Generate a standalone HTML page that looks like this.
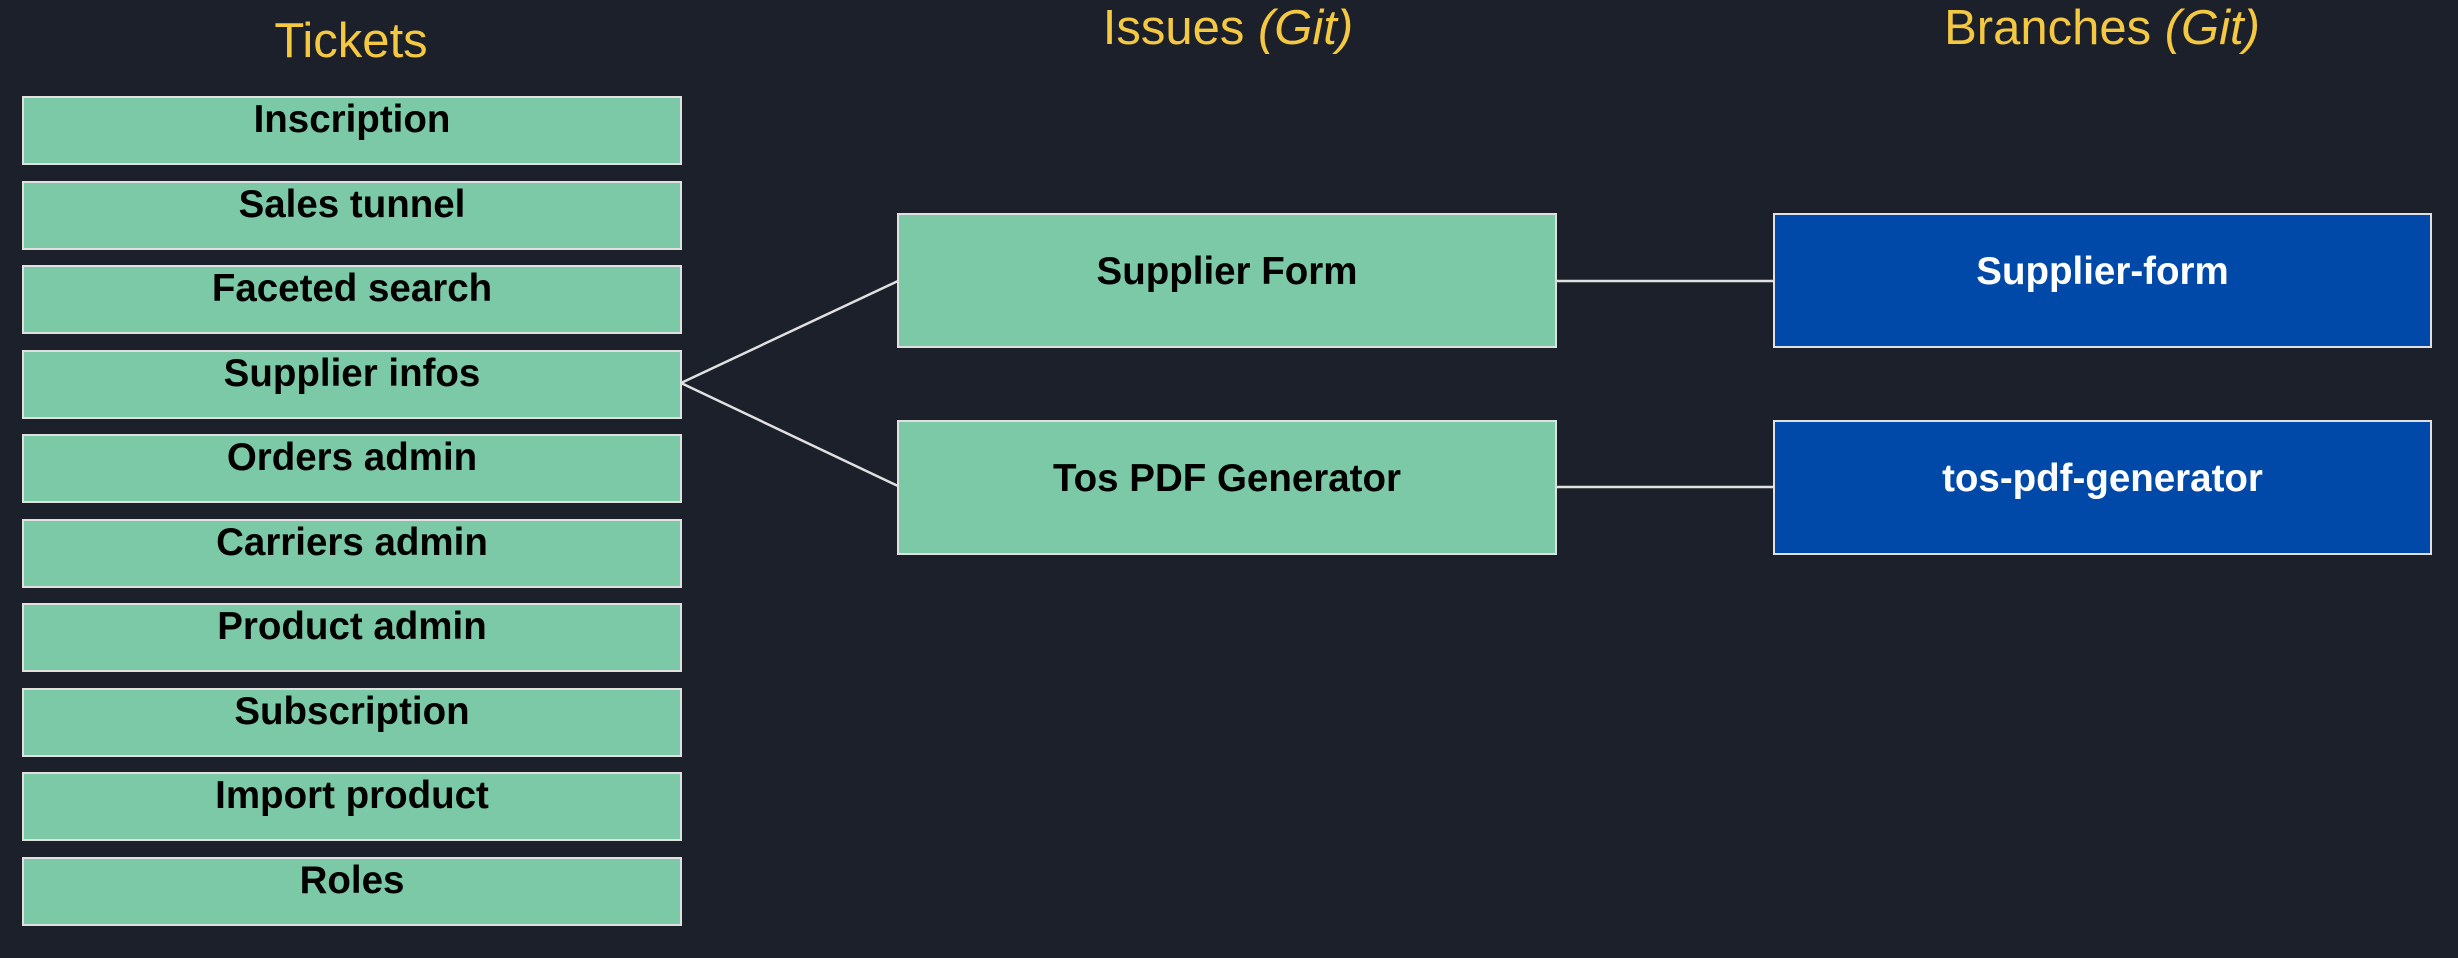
<!DOCTYPE html>
<html><head><style>
body{margin:0;width:2458px;height:958px;background:#1b202b;position:relative;overflow:hidden;font-family:"Liberation Sans",sans-serif}
.b{position:absolute;box-sizing:border-box;border:2px solid #e0e0e0;text-align:center;font-weight:bold;font-size:38.5px;color:#000}
.t{left:22px;width:660px;height:69px;background:#7cc9a7;line-height:42px;padding-top:1px}
.i{background:#7cc9a7;left:897px;width:660px;height:135px;padding-top:35px;line-height:44px}
.r{background:#0049a8;color:#fff;left:1773px;width:659px;height:135px;padding-top:35px;line-height:44px}
.h{position:absolute;color:#f5c842;font-size:49px;text-align:center;width:600px;line-height:56px}
</style></head><body>
<div class="h" style="left:51px;top:13px">Tickets</div>
<div class="h" style="left:928px;top:0px">Issues <i>(Git)</i></div>
<div class="h" style="left:1802px;top:0px">Branches <i>(Git)</i></div>
<svg style="position:absolute;left:0;top:0" width="2458" height="958">
<g stroke="#e0e0e0" stroke-width="2.5" fill="none">
<line x1="681" y1="383" x2="898" y2="281"/>
<line x1="681" y1="383" x2="898" y2="486"/>
<line x1="1556" y1="281" x2="1774" y2="281"/>
<line x1="1556" y1="487" x2="1774" y2="487"/>
</g></svg>
<div class="b t" style="top:96px">Inscription</div>
<div class="b t" style="top:181px">Sales tunnel</div>
<div class="b t" style="top:265px">Faceted search</div>
<div class="b t" style="top:350px">Supplier infos</div>
<div class="b t" style="top:434px">Orders admin</div>
<div class="b t" style="top:519px">Carriers admin</div>
<div class="b t" style="top:603px">Product admin</div>
<div class="b t" style="top:688px">Subscription</div>
<div class="b t" style="top:772px">Import product</div>
<div class="b t" style="top:857px">Roles</div>
<div class="b i" style="top:213px">Supplier Form</div>
<div class="b i" style="top:420px">Tos PDF Generator</div>
<div class="b r" style="top:213px">Supplier-form</div>
<div class="b r" style="top:420px">tos-pdf-generator</div>
</body></html>
